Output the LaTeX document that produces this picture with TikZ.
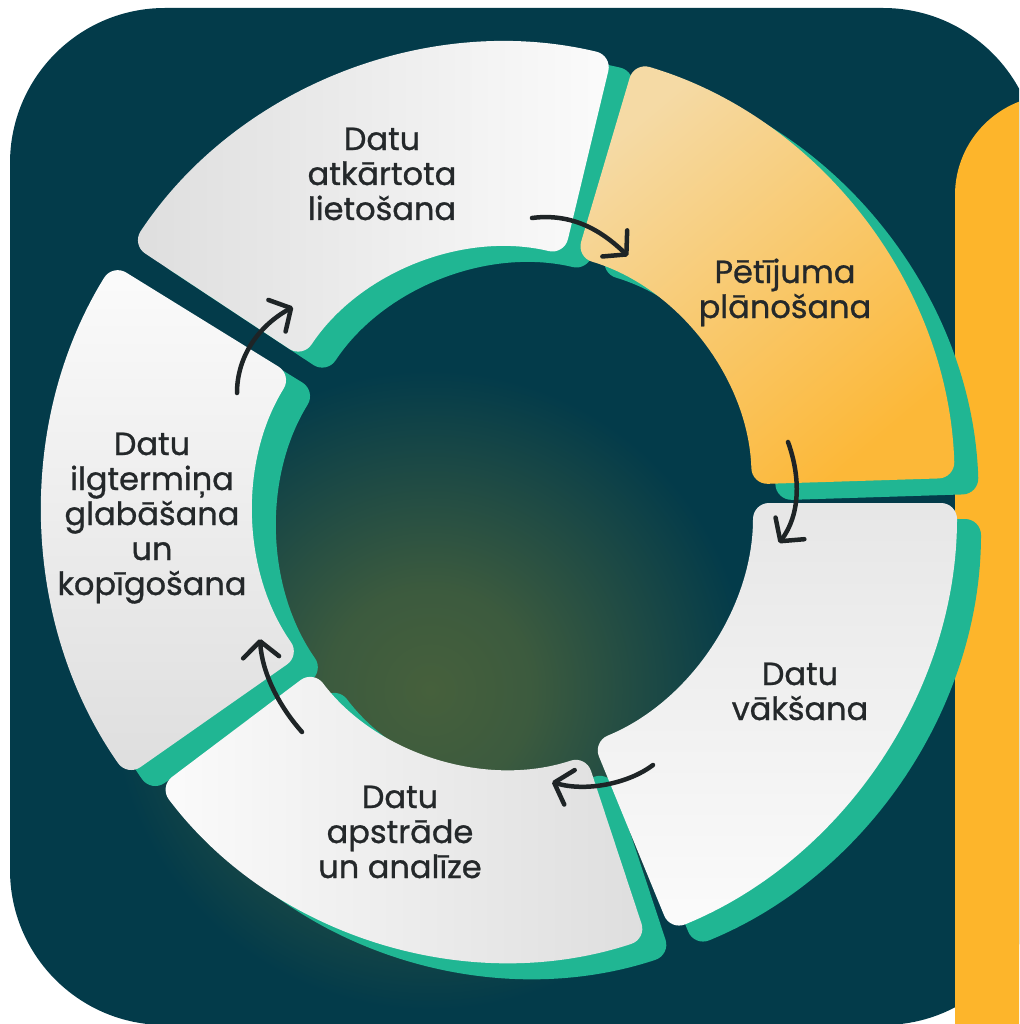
\documentclass[tikz,border=0pt]{standalone}
\usepackage{fontspec}
\setmainfont{Poppins}[FakeBold=0.9]
\usetikzlibrary{arrows.meta}
\definecolor{bgc}{RGB}{3,59,74}
\definecolor{glowc}{RGB}{70,96,60}
\definecolor{tealc}{RGB}{32,182,147}
\definecolor{panelc}{RGB}{253,181,43}
\definecolor{yelA}{RGB}{245,218,165}
\definecolor{yelB}{RGB}{252,184,56}
\definecolor{txtc}{RGB}{36,40,42}
\definecolor{arrc}{RGB}{30,36,38}
\definecolor{wA}{RGB}{251,251,251}
\definecolor{wB}{RGB}{222,222,222}
\pgfdeclareradialshading{glowshade}{\pgfpoint{0bp}{0bp}}{color(0bp)=(glowc); color(8bp)=(glowc!85!bgc); color(25bp)=(bgc); color(50bp)=(bgc)}
\newcommand\ringseg[7]{\begin{scope}[shift={(#1,#2)}]\path[rounded corners=16pt,#7] (#3:#6) arc[start angle=#3,end angle=#4,radius=#6] -- (#4:#5) arc[start angle=#4,end angle=#3,radius=#5] -- cycle;\end{scope}}
\begin{document}
\begin{tikzpicture}[x=1pt,y=-1pt,
  lab/.style={anchor=base, align=center, inner sep=0pt, text=txtc, font=\fontsize{32}{35}\selectfont},
  shadowseg/.style={fill=tealc, xshift=24pt, yshift=-16pt},
  flow/.style={draw=arrc, line width=4.5pt, line cap=round, -{Straight Barb[length=16pt, width=36pt, round]}}]
\useasboundingbox (0,0) rectangle (1019,1024);
\fill[white] (0,0) rectangle (1019,1024);
\begin{scope}
\clip (0,0) rectangle (1019,1024);
\fill[bgc, rounded corners=155pt] (10,8) rectangle (1038,1025);
\shade[shading=glowshade] (430,690) circle[radius=320];
\fill[panelc, rounded corners=100pt] (955,95) rectangle (1300,1300);
% teal shadows
\ringseg{507}{493}{-146.5}{-76.5}{245}{450}{shadowseg}
\ringseg{507}{492}{-73.5}{-1.8}{245}{448}{shadowseg}
\ringseg{495}{503}{0}{67.7}{258}{462}{shadowseg}
\ringseg{509}{523}{71.7}{143}{245}{438}{shadowseg}
\ringseg{509}{509}{145}{211.7}{255}{466}{shadowseg}
% segments
\ringseg{507}{493}{-146.5}{-76.5}{245}{450}{left color=wB, right color=wA}
\ringseg{507}{492}{-73.5}{-1.8}{245}{448}{top color=yelA, bottom color=yelB, shading angle=40}
\ringseg{495}{503}{0}{67.7}{258}{462}{top color=wB!70!wA, bottom color=wA}
\ringseg{509}{523}{71.7}{143}{245}{438}{left color=wA, right color=wB}
\ringseg{509}{509}{145}{211.7}{255}{466}{top color=wA, bottom color=wB}
% labels (anchor = baseline of last line)
\node[lab] (t1) at (382,220) {Datu\\atkārtota\\lietošana};
\node[lab] (t2) at (785,318) {Pētījuma\\plānošana};
\node[lab] (t3) at (800,720) {Datu\\vākšana};
\node[lab] (t4) at (400,878) {Datu\\apstrāde\\un analīze};
\node[lab] (t5) at (152,595) {Datu\\ilgtermiņa\\glabāšana\\un\\kopīgošana};
% arrows
\coordinate (a1s) at (532,218); \coordinate (a1e) at (628,256);
\coordinate (a2s) at (788,442); \coordinate (a2e) at (779,543);
\coordinate (a3s) at (653,765); \coordinate (a3e) at (552,782);
\coordinate (a4s) at (302,732); \coordinate (a4e) at (260,639);
\coordinate (a5s) at (237,393); \coordinate (a5e) at (293,307);
\draw[flow] (a1s) .. controls (578,212) and (608,237) .. (a1e);
\draw[flow] (a2s) .. controls (801,478) and (800,515) .. (a2e);
\draw[flow] (a3s) .. controls (628,784) and (585,792) .. (a3e);
\draw[flow] (a4s) .. controls (278,705) and (262,672) .. (a4e);
\draw[flow] (a5s) .. controls (237,355) and (260,325) .. (a5e);
\end{scope}
\end{tikzpicture}
\end{document}
